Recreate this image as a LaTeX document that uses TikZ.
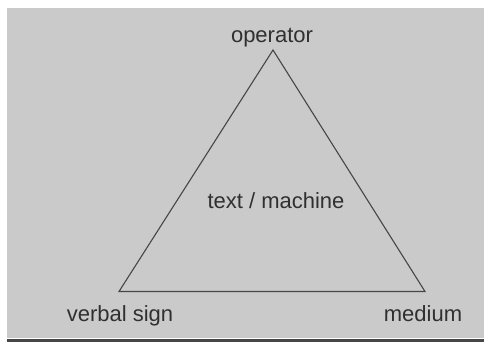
\documentclass[tikz,border=0pt]{standalone}
\usepackage{fontspec}
\setmainfont{Liberation Sans}
\definecolor{paper}{RGB}{202,202,202}
\definecolor{ink}{RGB}{48,48,48}
\definecolor{rule}{RGB}{70,70,70}
\begin{document}
\begin{tikzpicture}[x=1pt,y=-1pt,
  lbl/.style={anchor=base,inner sep=0pt,text=ink,font=\fontsize{22}{26}\selectfont},
  edge/.style={draw=rule,line width=1.1pt,line join=miter}]
  \useasboundingbox (0,0) rectangle (484,348);
  % page background and bottom rule
  \fill[white] (0,0) rectangle (484,348);
  \fill[paper] (7,8) rectangle (484,338);
  \coordinate (ruleL) at (7,340.5);
  \coordinate (ruleR) at (484,340.5);
  \draw[rule,line width=2.6pt] (ruleL) -- (ruleR);
  % triangle corners
  \coordinate (top) at (273,50);
  \coordinate (left) at (119,291.5);
  \coordinate (right) at (425,291.5);
  \draw[edge] (top) -- (right) -- (left) -- cycle;
  % labels
  \node[lbl] (op) at (272,42) {operator};
  \node[lbl] (tm) at (276,208) {text / machine};
  \node[lbl] (vs) at (120,321) {verbal sign};
  \node[lbl] (md) at (423,321) {medium};
\end{tikzpicture}
\end{document}
